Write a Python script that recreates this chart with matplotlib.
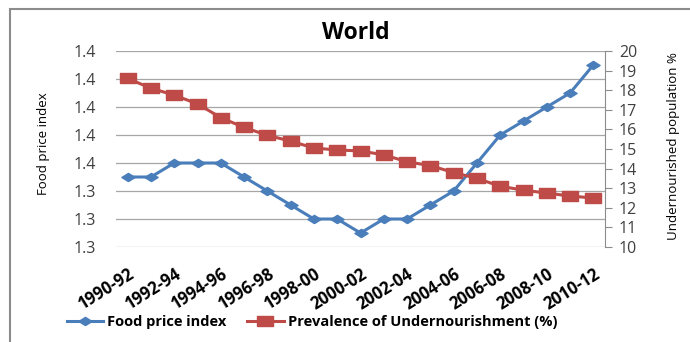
import matplotlib
matplotlib.use("Agg")
import matplotlib.pyplot as plt
from matplotlib.patches import Rectangle
from matplotlib.ticker import FormatStrFormatter

periods = ["1990-92", "1991-93", "1992-94", "1993-95", "1994-96", "1995-97", "1996-98",
           "1997-99", "1998-00", "1999-01", "2000-02", "2001-03", "2002-04", "2003-05",
           "2004-06", "2005-07", "2006-08", "2007-09", "2008-10", "2009-11", "2010-12"]
food_price = [1.35, 1.35, 1.36, 1.36, 1.36, 1.35, 1.34, 1.33, 1.32, 1.32, 1.31,
              1.32, 1.32, 1.33, 1.34, 1.36, 1.38, 1.39, 1.40, 1.41, 1.43]
undernourishment = [18.6, 18.1, 17.75, 17.3, 16.6, 16.1, 15.7, 15.4, 15.05, 14.95, 14.9,
                    14.7, 14.35, 14.15, 13.8, 13.5, 13.1, 12.9, 12.75, 12.6, 12.5]
left_ticks = [1.30, 1.32, 1.34, 1.36, 1.38, 1.40, 1.42, 1.44]
right_ticks = list(range(10, 21))

plt.rcParams['font.family'] = ['Open Sans', 'DejaVu Sans']

fig = plt.figure(figsize=(6.9, 3.42), dpi=100)
fig.patches.append(Rectangle((10/690, -0.1), 1.0, 1 - 9/342 + 0.1, transform=fig.transFigure,
                             fill=False, edgecolor='#8c8c8c', linewidth=1.5))
ax = fig.add_axes([116/690, 1 - 247/342, (605 - 116)/690, (247 - 51)/342])
ax2 = ax.twinx()

blue = '#4A7EBB'
red = '#BE4B48'
diamond = [(0, -1), (1.6, 0), (0, 1), (-1.6, 0), (0, -1)]
wide_square = [(-1.5, -1), (1.5, -1), (1.5, 1), (-1.5, 1), (-1.5, -1)]
x = list(range(len(periods)))
l1, = ax.plot(x, food_price, color=blue, marker=diamond, markersize=9.5, linewidth=2.2, zorder=3)
l2, = ax2.plot(x, undernourishment, color=red, marker=wide_square, markersize=11, linewidth=2.2, zorder=3)

ax.set_ylim(1.30, 1.44)
ax.set_yticks(left_ticks)
ax.yaxis.set_major_formatter(FormatStrFormatter('%.1f'))
ax.grid(axis='y', color='#a6a6a6', linewidth=0.9)
ax.set_axisbelow(True)
ax.set_xlim(-0.5, 20.5)
ax.set_xticks(x[::2])
ax.set_xticklabels(periods[::2], rotation=32, ha='right', rotation_mode='anchor',
                   fontsize=12, fontweight='bold', color='#000000')
ax.tick_params(axis='x', length=0, pad=13)
ax.tick_params(axis='y', length=0, pad=14.5, labelsize=11.5, labelcolor='#404040')
ax.set_ylabel('Food price index', fontsize=9.5)
ax.yaxis.set_label_coords(-0.135, 0.525)

ax2.set_ylim(10, 20)
ax2.set_yticks(right_ticks)
ax2.tick_params(axis='y', length=5, color='#8c8c8c', labelsize=11.5, labelcolor='#404040', pad=5)
ax2.set_ylabel('Undernourished population %', fontsize=9.5)
ax2.yaxis.set_label_coords(1.127, 0.515)

for a in (ax, ax2):
    for s in ['top', 'left', 'bottom']:
        a.spines[s].set_visible(False)
ax.spines['right'].set_visible(False)
ax2.spines['right'].set_color('#8c8c8c')

fig.text(356/690, 1 - 33/342, 'World', ha='center', va='center', fontsize=16.5, fontweight='bold')

fig.legend([l1, l2], ['Food price index', 'Prevalence of Undernourishment (%)'],
           loc='center', bbox_to_anchor=(312/690, 1 - 322/342), ncol=2, frameon=False,
           prop={'size': 10.5, 'weight': 'bold'}, handlelength=2.5, columnspacing=1.4,
           handletextpad=0.3)

fig.savefig('out.png', dpi=100)
